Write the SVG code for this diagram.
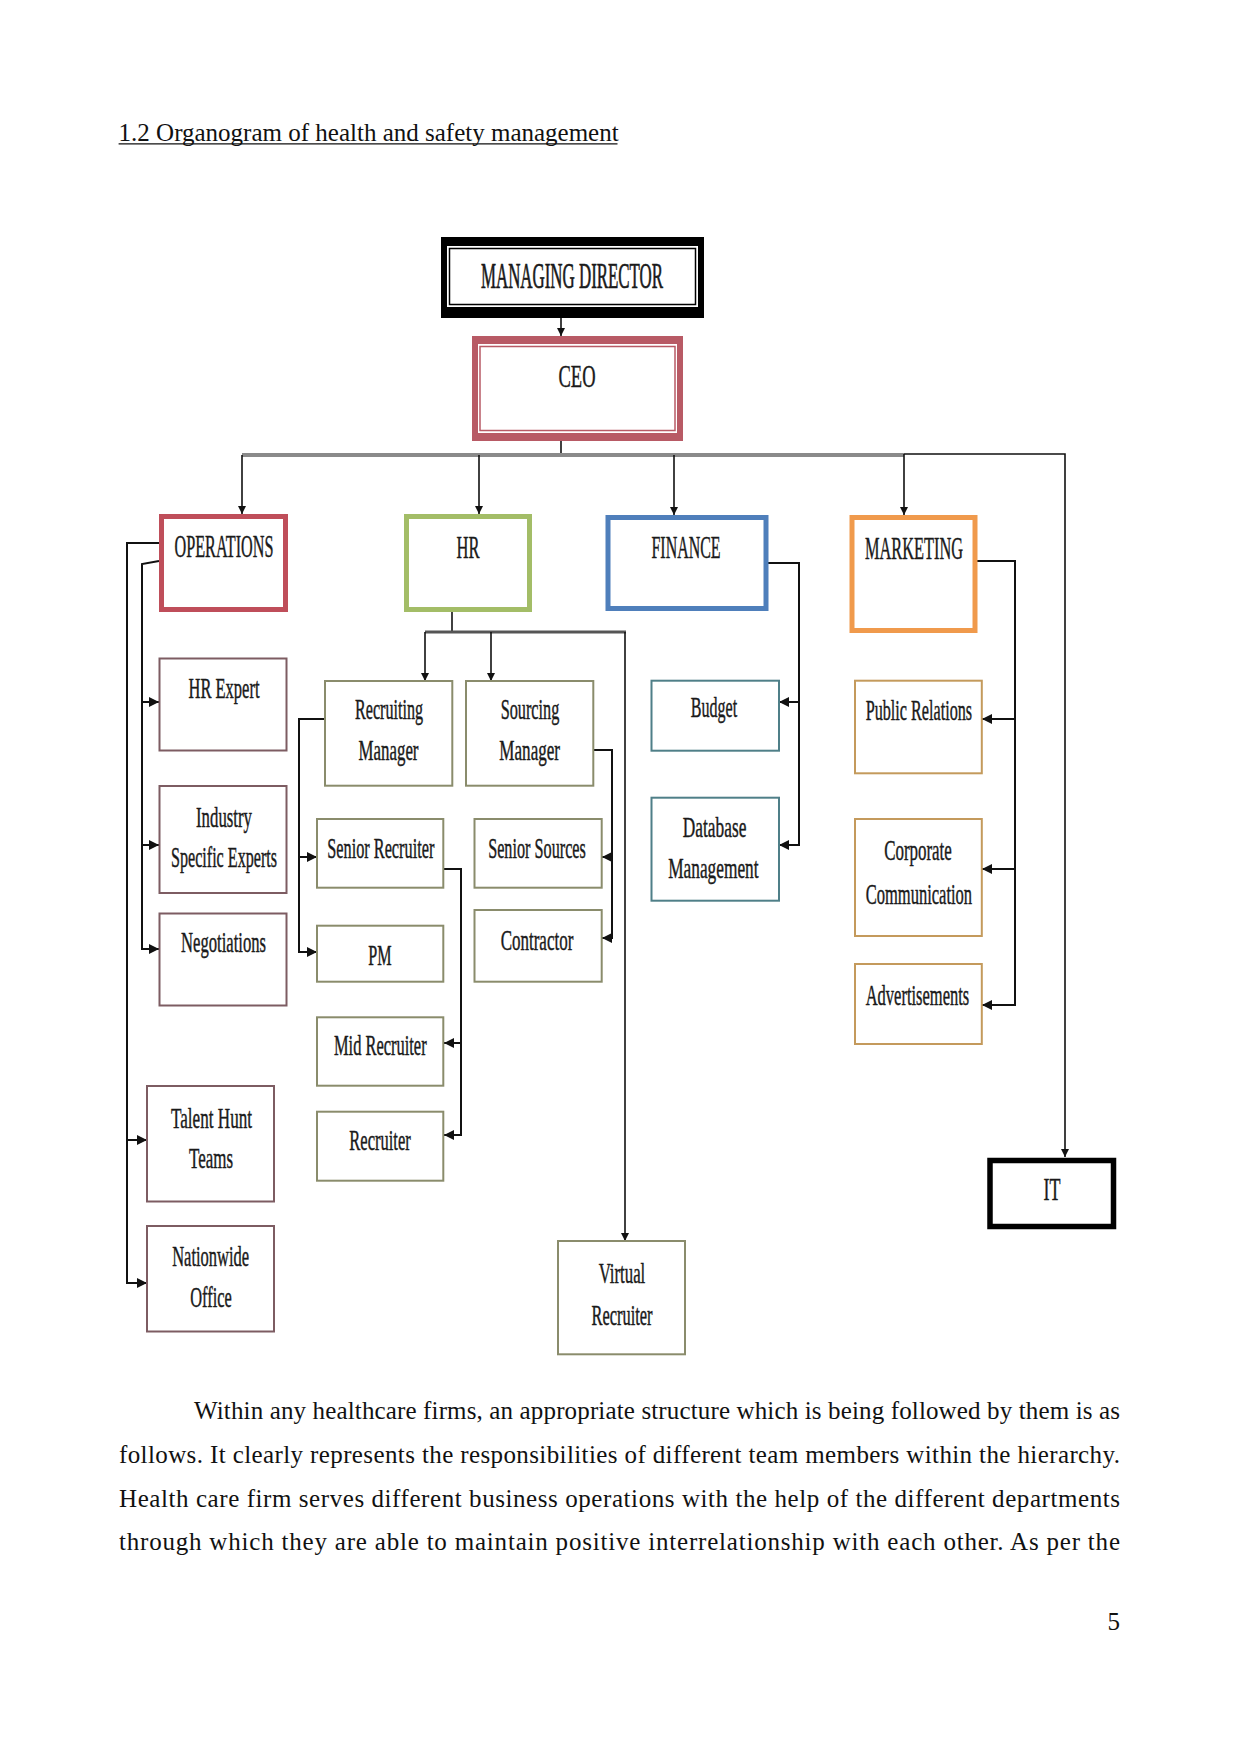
<svg xmlns="http://www.w3.org/2000/svg" width="1241" height="1754" viewBox="0 0 1241 1754">
<style>
  .doc{font-family:"Liberation Serif","Times New Roman",serif;font-size:25px;fill:#111}
  .lbl{font-family:"Liberation Serif","Times New Roman",serif;font-size:32px;fill:#1a1a1a;stroke:#1a1a1a;stroke-width:0.45;text-anchor:middle}
  .sub{font-size:30px}
  .md{font-size:35px;stroke-width:0.7}
  .ln{fill:none;stroke:#111;stroke-width:1.6}
  .lnb{fill:none;stroke:#111;stroke-width:2}
  .ops{fill:#fff;stroke:#7d5c62;stroke-width:2}
  .hrs{fill:#fff;stroke:#8a8c6c;stroke-width:2}
  .fin{fill:#fff;stroke:#4f7f88;stroke-width:2}
  .mkt{fill:#fff;stroke:#c49a5c;stroke-width:2}
</style>
<defs>
  <marker id="aD" viewBox="0 0 10 10" refX="10" refY="5" markerWidth="8" markerHeight="8" markerUnits="userSpaceOnUse" orient="auto">
    <path d="M0,0 L10,5 L0,10 z" fill="#111"/>
  </marker>
  <marker id="aS" viewBox="0 0 10 10" refX="10" refY="5" markerWidth="10" markerHeight="10" markerUnits="userSpaceOnUse" orient="auto">
    <path d="M0,0 L10,5 L0,10 z" fill="#111"/>
  </marker>
</defs>
<rect width="1241" height="1754" fill="#fff"/>

<!-- title -->
<text class="doc" x="118.6" y="140.7">1.2 Organogram of health and safety management</text>
<line x1="118.6" y1="143.8" x2="617.5" y2="143.8" stroke="#111" stroke-width="1.3"/>

<!-- connectors -->
<g id="connectors">
  <path class="ln" d="M561,318 V336" marker-end="url(#aD)"/>
  <path class="ln" d="M561,441 V455"/>
  <path d="M242,455 H904" fill="none" stroke="#8a8a8a" stroke-width="4"/>
  <path class="ln" d="M242,455 V514" marker-end="url(#aD)"/>
  <path class="ln" d="M479,455 V514" marker-end="url(#aD)"/>
  <path class="ln" d="M674,455 V515" marker-end="url(#aD)"/>
  <path class="ln" d="M904,454 V515" marker-end="url(#aD)"/>
  <path class="ln" d="M904,454 H1065 V1157" marker-end="url(#aD)"/>
  <!-- HR -->
  <path class="ln" d="M452,612 V632"/>
  <path d="M425,632 H626" fill="none" stroke="#555" stroke-width="3"/>
  <path class="ln" d="M425,632 V681" marker-end="url(#aD)"/>
  <path class="ln" d="M491,632 V681" marker-end="url(#aD)"/>
  <path class="ln" d="M625,632 V1241" marker-end="url(#aD)"/>
  <!-- Recruiting manager -->
  <path class="lnb" d="M325,719 H299 V952"/>
  <path class="lnb" d="M298,857 H317" marker-end="url(#aS)"/>
  <path class="lnb" d="M298,952 H317" marker-end="url(#aS)"/>
  <!-- Sourcing manager -->
  <path class="lnb" d="M593,750 H612 V938"/>
  <path class="lnb" d="M613,857 H602" marker-end="url(#aS)"/>
  <path class="lnb" d="M613,938 H602" marker-end="url(#aS)"/>
  <!-- Senior recruiter -->
  <path class="lnb" d="M443,869 H461 V1135"/>
  <path class="lnb" d="M462,1043 H444" marker-end="url(#aS)"/>
  <path class="lnb" d="M462,1135 H444" marker-end="url(#aS)"/>
  <!-- Operations -->
  <path class="lnb" d="M159,543 H127 V1283"/>
  <path class="lnb" d="M126,1140 H147" marker-end="url(#aS)"/>
  <path class="lnb" d="M126,1283 H147" marker-end="url(#aS)"/>
  <path class="lnb" d="M159,561 L142,564 V949"/>
  <path class="lnb" d="M141,702 H159" marker-end="url(#aS)"/>
  <path class="lnb" d="M141,845 H159" marker-end="url(#aS)"/>
  <path class="lnb" d="M141,949 H159" marker-end="url(#aS)"/>
  <!-- Finance -->
  <path class="lnb" d="M768,563 H799 V845"/>
  <path class="lnb" d="M800,702 H779" marker-end="url(#aS)"/>
  <path class="lnb" d="M800,845 H779" marker-end="url(#aS)"/>
  <!-- Marketing -->
  <path class="lnb" d="M977,561 H1015 V1005"/>
  <path class="lnb" d="M1016,719 H982" marker-end="url(#aS)"/>
  <path class="lnb" d="M1016,869 H982" marker-end="url(#aS)"/>
  <path class="lnb" d="M1016,1005 H982" marker-end="url(#aS)"/>
</g>

<!-- nodes -->
<g id="node-md">
  <rect x="441" y="237" width="263" height="81" fill="#000"/>
  <rect x="447" y="246" width="251" height="61" fill="#fff"/>
  <rect x="449.5" y="248.5" width="246" height="56" fill="none" stroke="#000" stroke-width="1.5"/>
  <text class="lbl md" x="572" y="288" textLength="182" lengthAdjust="spacingAndGlyphs">MANAGING DIRECTOR</text>
</g>
<g id="node-ceo">
  <rect x="472" y="336" width="211" height="105" fill="#b85a65"/>
  <rect x="478" y="344" width="199" height="89" fill="#fff"/>
  <rect x="480" y="346.5" width="195" height="84" fill="none" stroke="#b85a65" stroke-width="1.5"/>
  <text class="lbl" x="577" y="387" textLength="37" lengthAdjust="spacingAndGlyphs">CEO</text>
</g>
<g id="node-operations">
  <rect x="161.5" y="516.5" width="124" height="93" fill="#fff" stroke="#bf4e5a" stroke-width="5"/>
  <text class="lbl" x="224" y="557" textLength="99" lengthAdjust="spacingAndGlyphs">OPERATIONS</text>
</g>
<g id="node-hr">
  <rect x="406.5" y="516.5" width="123" height="93" fill="#fff" stroke="#a3bd67" stroke-width="5"/>
  <text class="lbl" x="468" y="558" textLength="23" lengthAdjust="spacingAndGlyphs">HR</text>
</g>
<g id="node-finance">
  <rect x="608" y="517.5" width="158" height="91" fill="#fff" stroke="#4f7fbb" stroke-width="5"/>
  <text class="lbl" x="686" y="558" textLength="69" lengthAdjust="spacingAndGlyphs">FINANCE</text>
</g>
<g id="node-marketing">
  <rect x="852" y="517.5" width="123" height="113" fill="#fff" stroke="#f09a4c" stroke-width="5"/>
  <text class="lbl" x="914" y="559" textLength="98" lengthAdjust="spacingAndGlyphs">MARKETING</text>
</g>
<g id="node-it">
  <rect x="990" y="1160.5" width="123.5" height="66" fill="#fff" stroke="#000" stroke-width="5.5"/>
  <text class="lbl" x="1052" y="1200" textLength="17" lengthAdjust="spacingAndGlyphs">IT</text>
</g>

<!-- Operations children -->
<g id="node-hr-expert">
  <rect class="ops" x="159.5" y="658.5" width="127" height="92"/>
  <text class="lbl sub" x="224" y="697.7" textLength="71" lengthAdjust="spacingAndGlyphs">HR Expert</text>
</g>
<g id="node-industry-experts">
  <rect class="ops" x="159.5" y="786" width="127" height="107"/>
  <text class="lbl sub" x="224" y="827" textLength="56" lengthAdjust="spacingAndGlyphs">Industry</text>
  <text class="lbl sub" x="224" y="867" textLength="106" lengthAdjust="spacingAndGlyphs">Specific Experts</text>
</g>
<g id="node-negotiations">
  <rect class="ops" x="159.5" y="913.5" width="127" height="92"/>
  <text class="lbl sub" x="223.5" y="951.7" textLength="85" lengthAdjust="spacingAndGlyphs">Negotiations</text>
</g>
<g id="node-talent-hunt">
  <rect class="ops" x="147" y="1086" width="127" height="115.5"/>
  <text class="lbl sub" x="211.5" y="1128.3" textLength="81" lengthAdjust="spacingAndGlyphs">Talent Hunt</text>
  <text class="lbl sub" x="211" y="1168.3" textLength="44" lengthAdjust="spacingAndGlyphs">Teams</text>
</g>
<g id="node-nationwide">
  <rect class="ops" x="147" y="1226" width="127" height="105.5"/>
  <text class="lbl sub" x="210.7" y="1266" textLength="77" lengthAdjust="spacingAndGlyphs">Nationwide</text>
  <text class="lbl sub" x="211" y="1306.7" textLength="41.5" lengthAdjust="spacingAndGlyphs">Office</text>
</g>

<!-- HR children -->
<g id="node-recruiting-manager">
  <rect class="hrs" x="325" y="681" width="127.3" height="104.7"/>
  <text class="lbl sub" x="389" y="719" textLength="68" lengthAdjust="spacingAndGlyphs">Recruiting</text>
  <text class="lbl sub" x="388.5" y="760" textLength="60" lengthAdjust="spacingAndGlyphs">Manager</text>
</g>
<g id="node-sourcing-manager">
  <rect class="hrs" x="466" y="681" width="127.3" height="104.7"/>
  <text class="lbl sub" x="530" y="719" textLength="58.7" lengthAdjust="spacingAndGlyphs">Sourcing</text>
  <text class="lbl sub" x="529.7" y="760" textLength="60.7" lengthAdjust="spacingAndGlyphs">Manager</text>
</g>
<g id="node-senior-recruiter">
  <rect class="hrs" x="317" y="819" width="126.3" height="68.7"/>
  <text class="lbl sub" x="380.8" y="858.3" textLength="107" lengthAdjust="spacingAndGlyphs">Senior Recruiter</text>
</g>
<g id="node-pm">
  <rect class="hrs" x="317" y="925.7" width="126.3" height="56"/>
  <text class="lbl sub" x="380" y="965" textLength="23.3" lengthAdjust="spacingAndGlyphs">PM</text>
</g>
<g id="node-mid-recruiter">
  <rect class="hrs" x="317" y="1017.3" width="126.3" height="68.4"/>
  <text class="lbl sub" x="380.3" y="1055" textLength="92.7" lengthAdjust="spacingAndGlyphs">Mid Recruiter</text>
</g>
<g id="node-recruiter">
  <rect class="hrs" x="317" y="1111.7" width="126.3" height="69"/>
  <text class="lbl sub" x="380" y="1150" textLength="61.4" lengthAdjust="spacingAndGlyphs">Recruiter</text>
</g>
<g id="node-senior-sources">
  <rect class="hrs" x="474.5" y="819" width="127.2" height="68.7"/>
  <text class="lbl sub" x="537" y="858.3" textLength="97.7" lengthAdjust="spacingAndGlyphs">Senior Sources</text>
</g>
<g id="node-contractor">
  <rect class="hrs" x="474.5" y="910" width="127.2" height="71.7"/>
  <text class="lbl sub" x="537" y="950" textLength="72.7" lengthAdjust="spacingAndGlyphs">Contractor</text>
</g>
<g id="node-virtual-recruiter">
  <rect class="hrs" x="558" y="1241" width="127" height="113.3"/>
  <text class="lbl sub" x="622" y="1283" textLength="46.6" lengthAdjust="spacingAndGlyphs">Virtual</text>
  <text class="lbl sub" x="622" y="1325" textLength="61" lengthAdjust="spacingAndGlyphs">Recruiter</text>
</g>

<!-- Finance children -->
<g id="node-budget">
  <rect class="fin" x="651.5" y="680.7" width="127.5" height="70"/>
  <text class="lbl sub" x="714" y="717.3" textLength="46.4" lengthAdjust="spacingAndGlyphs">Budget</text>
</g>
<g id="node-database">
  <rect class="fin" x="651.5" y="797.7" width="127.5" height="103"/>
  <text class="lbl sub" x="714.6" y="837.3" textLength="63.5" lengthAdjust="spacingAndGlyphs">Database</text>
  <text class="lbl sub" x="713.4" y="878.3" textLength="90.4" lengthAdjust="spacingAndGlyphs">Management</text>
</g>

<!-- Marketing children -->
<g id="node-public-relations">
  <rect class="mkt" x="855" y="680.7" width="126.8" height="92.6"/>
  <text class="lbl sub" x="918.9" y="720" textLength="106.4" lengthAdjust="spacingAndGlyphs">Public Relations</text>
</g>
<g id="node-corporate-communication">
  <rect class="mkt" x="855" y="819" width="126.8" height="117"/>
  <text class="lbl sub" x="918" y="860" textLength="67.7" lengthAdjust="spacingAndGlyphs">Corporate</text>
  <text class="lbl sub" x="918.9" y="904" textLength="106.4" lengthAdjust="spacingAndGlyphs">Communication</text>
</g>
<g id="node-advertisements">
  <rect class="mkt" x="855" y="964" width="126.8" height="80"/>
  <text class="lbl sub" x="917.5" y="1005" textLength="103.6" lengthAdjust="spacingAndGlyphs">Advertisements</text>
</g>

<!-- body text -->
<text class="doc" x="194" y="1418.5" textLength="926" lengthAdjust="spacing">Within any healthcare firms, an appropriate structure which is being followed by them is as</text>
<text class="doc" x="119" y="1463.3" textLength="1001" lengthAdjust="spacing">follows. It clearly represents the responsibilities of different team members within the hierarchy.</text>
<text class="doc" x="119" y="1506.7" textLength="1001" lengthAdjust="spacing">Health care firm serves different business operations with the help of the different departments</text>
<text class="doc" x="119" y="1549.5" textLength="1001" lengthAdjust="spacing">through which they are able to maintain positive interrelationship with each other. As per the</text>
<text class="doc" x="1120" y="1629.5" text-anchor="end">5</text>
</svg>
